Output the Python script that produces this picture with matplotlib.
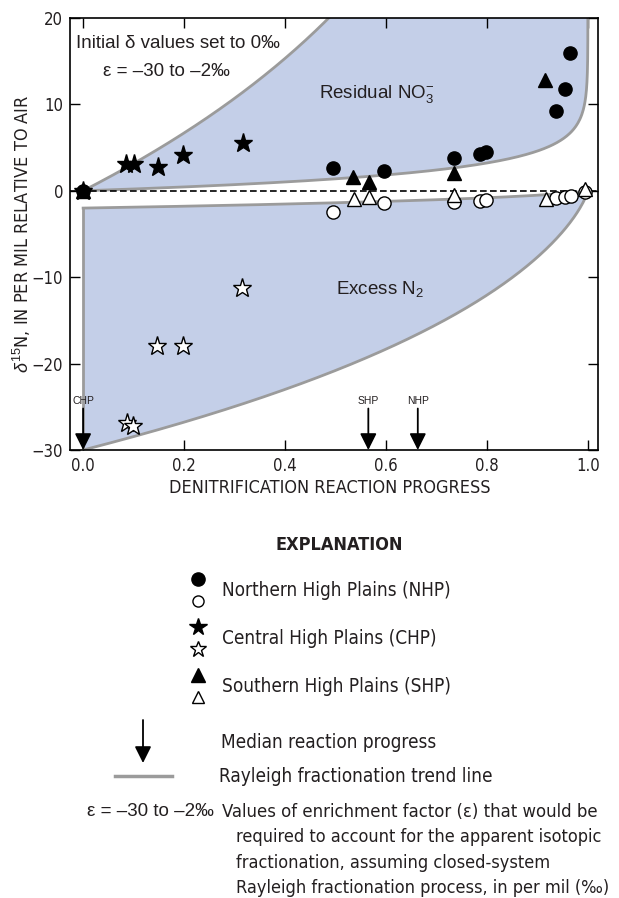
import numpy as np
import matplotlib
matplotlib.use('Agg')
import matplotlib.pyplot as plt
from matplotlib import font_manager
from matplotlib.patches import FancyArrowPatch

# reaction progress / d15N for residual nitrate (filled) and excess N2 (open)
nhp_no3_x = [0.0, 0.495, 0.596, 0.735, 0.786, 0.798, 0.937, 0.955, 0.965]
nhp_no3_y = [0.0, 2.6, 2.3, 3.8, 4.3, 4.5, 9.2, 11.8, 16.0]
nhp_n2_x = [0.495, 0.596, 0.735, 0.786, 0.798, 0.937, 0.955, 0.966, 0.994]
nhp_n2_y = [-2.4, -1.4, -1.3, -1.2, -1.1, -0.8, -0.7, -0.6, -0.1]

chp_no3_x = [0.0, 0.085, 0.101, 0.149, 0.198, 0.317]
chp_no3_y = [0.0, 3.1, 3.1, 2.7, 4.1, 5.5]
chp_n2_x = [0.087, 0.099, 0.147, 0.198, 0.315]
chp_n2_y = [-26.9, -27.2, -18.0, -18.0, -11.3]

shp_no3_x = [0.0, 0.535, 0.566, 0.735, 0.915]
shp_no3_y = [0.0, 1.6, 1.0, 2.1, 12.8]
shp_n2_x = [0.537, 0.566, 0.735, 0.917, 0.994]
shp_n2_y = [-0.9, -0.7, -0.5, -1.0, 0.2]

median_regions = ['CHP', 'SHP', 'NHP']
median_progress = [0.0, 0.565, 0.663]

eps_range = [-30, -2]   # enrichment factors bounding the trend lines, per mil

x_ticks = [0.0, 0.2, 0.4, 0.6, 0.8, 1.0]
x_ticklabels = ['0.0', '0.2', '0.4', '0.6', '0.8', '1.0']
y_ticks = [-30, -20, -10, 0, 10, 20]
y_ticklabels = ['\u221230', '\u221220', '\u221210', '0', '10', '20']

FILL = '#c4cfe8'
TREND = '#9b9b9b'
INK = '#231f20'

installed = {f.name for f in font_manager.fontManager.ttflist}
if 'Liberation Sans Narrow' in installed:
    NARROW = dict(family=['Liberation Sans Narrow', 'DejaVu Sans'])
else:
    NARROW = dict(family=['DejaVu Sans'], stretch='condensed')
REG = dict(family=['Liberation Sans', 'DejaVu Sans'])

plt.rcParams['mathtext.fontset'] = 'custom'
plt.rcParams['mathtext.rm'] = 'Liberation Sans'
plt.rcParams['mathtext.it'] = 'Liberation Sans:italic'


def residual(p, eps):
    # closed-system Rayleigh, remaining nitrate
    return eps * np.log(1 - p)


def product(p, eps):
    # accumulated product (excess N2)
    f = 1 - p
    out = np.full_like(p, float(eps))
    m = f < 1
    fm = np.clip(f[m], 1e-300, None)
    out[m] = -eps * fm * np.log(fm) / (1 - fm)
    out[f <= 0] = 0.0
    return out


W, H = 619, 898
fig = plt.figure(figsize=(W / 100, H / 100), dpi=100)
ax = fig.add_axes([70 / W, 1 - 450 / H, 528 / W, 432 / H])

p = np.concatenate([np.linspace(0, 0.99, 500), 1 - np.logspace(-2, -12, 300)])
pp = np.concatenate([p, [1.0]])

hi = residual(p, eps_range[0])
lo = residual(p, eps_range[1])
ax.fill_between(p, lo, np.minimum(hi, 40), color=FILL, lw=0, zorder=1)
ax.plot(p, hi, color=TREND, lw=2, zorder=2)
ax.plot(p, lo, color=TREND, lw=2, zorder=2)

bot = product(pp, eps_range[0])
top = product(pp, eps_range[1])
ax.fill_between(pp, bot, top, color=FILL, lw=0, zorder=1)
ax.plot(pp, bot, color=TREND, lw=2, zorder=2)
ax.plot(pp, top, color=TREND, lw=2, zorder=2)
ax.plot([0, 0], [eps_range[1], eps_range[0]], color=TREND, lw=2, zorder=2)

ax.axhline(0, color='black', lw=1.2, ls=(0, (4, 2)), zorder=3)

mk = dict(linestyle='none', markeredgecolor='black', markeredgewidth=1.0, zorder=5)
ax.plot(nhp_n2_x, nhp_n2_y, marker='o', ms=9.5, markerfacecolor='white', **mk)
ax.plot(chp_n2_x, chp_n2_y, marker='*', ms=14, markerfacecolor='white', **mk)
ax.plot(shp_n2_x, shp_n2_y, marker='^', ms=10, markerfacecolor='white', **mk)
ax.plot(nhp_no3_x, nhp_no3_y, marker='o', ms=9.5, markerfacecolor='black', **mk)
ax.plot(shp_no3_x, shp_no3_y, marker='^', ms=10, markerfacecolor='black', **mk)
ax.plot(chp_no3_x, chp_no3_y, marker='*', ms=14, markerfacecolor='black', **mk)

for name, xm in zip(median_regions, median_progress):
    ax.add_patch(FancyArrowPatch((xm, -25.2), (xm, -30), arrowstyle='-|>,head_length=0.5,head_width=0.25',
                                 mutation_scale=20, color='black', lw=1.3, shrinkA=0, shrinkB=0, zorder=6,
                                 clip_on=False))
    ax.text(xm, -24.3, name, ha='center', va='center', fontsize=7.5, color=INK, **REG)

ax.text(-0.014, 17.1, 'Initial \u03b4 values set to 0\u2030', ha='left', va='center',
        fontsize=13.5, color=INK, **REG)
ax.text(0.040, 13.75, '\u03b5 = \u201330 to \u20132\u2030', ha='left', va='center',
        fontsize=13.5, color=INK, **REG)
ax.text(0.467, 11.2, r'Residual NO$_3^{-}$', ha='left', va='center', fontsize=13.5, color=INK, **REG)
ax.text(0.50, -11.4, r'Excess N$_2$', ha='left', va='center', fontsize=13.5, color=INK, **REG)

ax.set_xlim(-0.026, 1.02)
ax.set_ylim(-30, 20)
ax.set_xticks(x_ticks)
ax.set_xticklabels(x_ticklabels, fontsize=12, color=INK, **NARROW)
ax.set_yticks(y_ticks)
ax.set_yticklabels(y_ticklabels, fontsize=12, color=INK, **NARROW)
ax.tick_params(direction='in', top=True, right=True, length=7, width=1, pad=5)
for s in ax.spines.values():
    s.set_linewidth(1.2)

# explanation block and axis titles, laid out in pixel space
lax = fig.add_axes([0, 0, 1, 1])
lax.set_xlim(0, W)
lax.set_ylim(H, 0)
lax.axis('off')

lax.text(22, 234, r'$\delta^{15}$N, IN PER MIL RELATIVE TO AIR', rotation=90, ha='center', va='center',
         fontsize=13, color=INK, **NARROW)
lax.text(330, 488, 'DENITRIFICATION REACTION PROGRESS', ha='center', va='center',
         fontsize=13, color=INK, **NARROW)

lax.text(339, 545, 'EXPLANATION', ha='center', va='center', fontsize=13, weight='bold', color=INK, **NARROW)

legend_rows = [
    ('o', 9.5, 8, 'Northern High Plains (NHP)'),
    ('*', 13, 12, 'Central High Plains (CHP)'),
    ('^', 10, 9, 'Southern High Plains (SHP)'),
]
for i, (m, s_full, s_open, label) in enumerate(legend_rows):
    yc = 590 + 48 * i
    lax.plot(198, yc - 11, marker=m, ms=s_full, color='black', mec='black', mew=1, linestyle='none')
    lax.plot(198, yc + 11, marker=m, ms=s_open, mfc='white', mec='black', mew=1, linestyle='none')
    lax.text(222, yc, label, ha='left', va='center', fontsize=13.6, color=INK, **NARROW)

lax.add_patch(FancyArrowPatch((143, 720), (143, 763), arrowstyle='-|>,head_length=0.5,head_width=0.25',
                              mutation_scale=20, color='black', lw=1.3, shrinkA=0, shrinkB=0))
lax.text(221, 742, 'Median reaction progress', ha='left', va='center', fontsize=13.6, color=INK, **NARROW)

lax.plot([115, 172], [776, 776], color=TREND, lw=2.5)
lax.text(219, 777, 'Rayleigh fractionation trend line', ha='left', va='center', fontsize=13.6, color=INK,
         **NARROW)

lax.text(214, 812, '\u03b5 = \u201330 to \u20132\u2030', ha='right', va='center', fontsize=13.5, color=INK, **REG)
lax.text(222, 812, 'Values of enrichment factor (\u03b5) that would be', ha='left', va='center',
         fontsize=13.2, color=INK, **NARROW)
desc_lines = ['required to account for the apparent isotopic',
              'fractionation, assuming closed-system',
              'Rayleigh fractionation process, in per mil (\u2030)']
for k, line in enumerate(desc_lines):
    lax.text(236, 837 + 25.5 * k, line, ha='left', va='center', fontsize=13.0, color=INK, **NARROW)

fig.savefig('out.png', dpi=100, facecolor='white')
